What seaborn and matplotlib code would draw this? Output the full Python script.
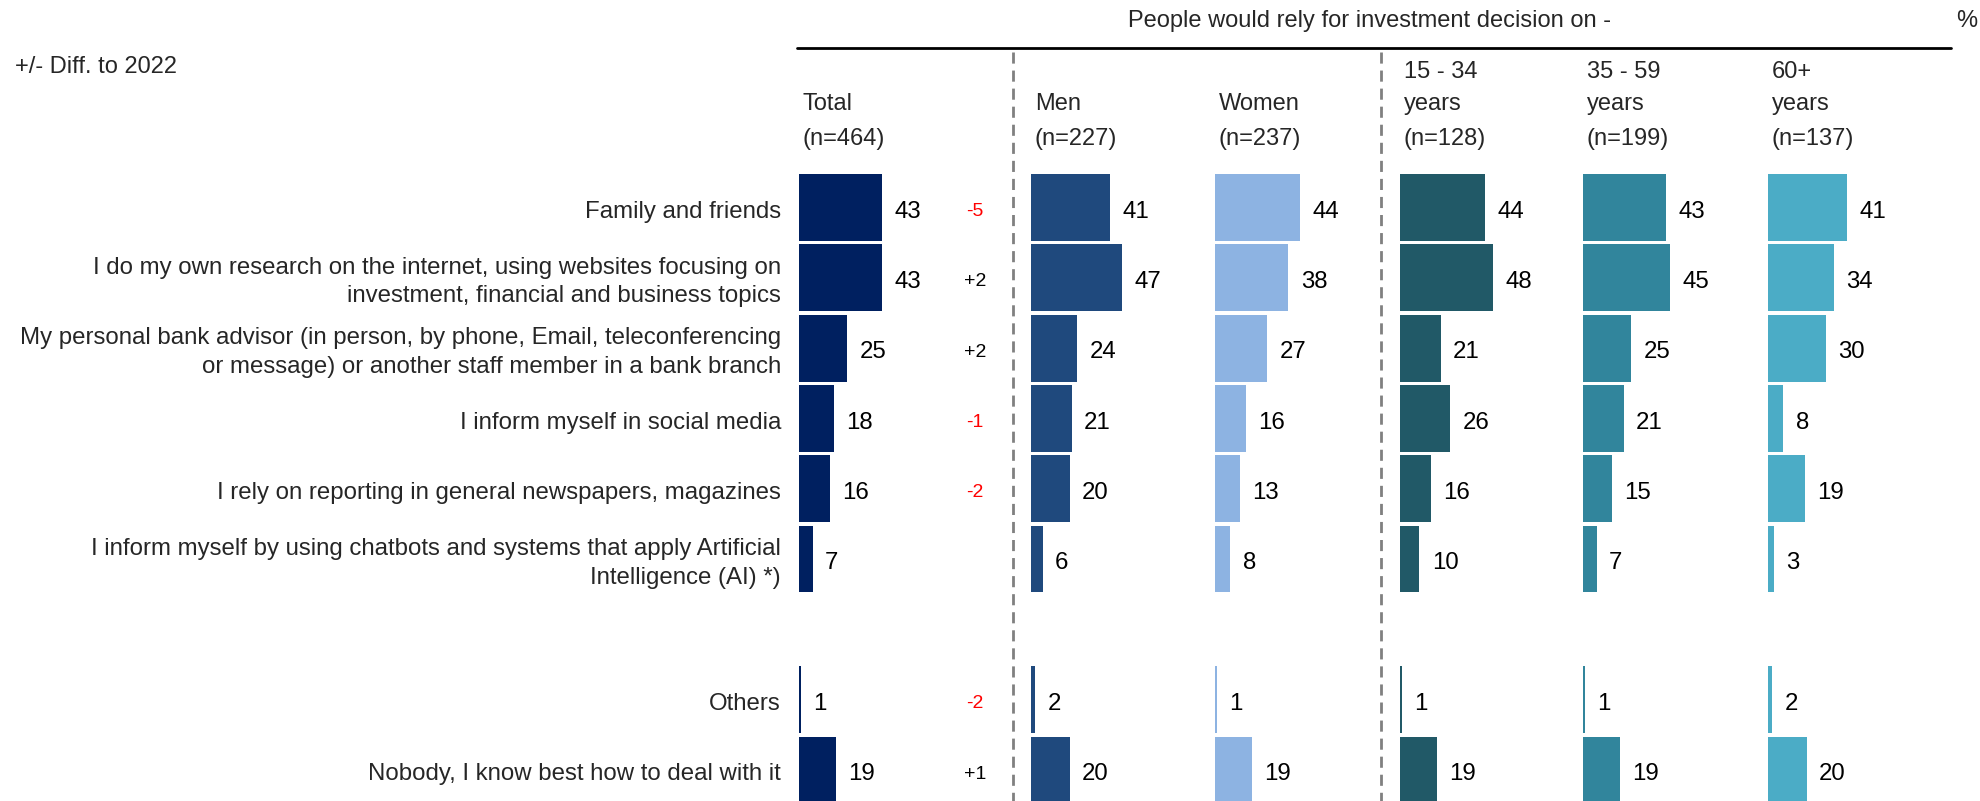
import pandas as pd
import matplotlib.pyplot as plt
from matplotlib.lines import Line2D
import seaborn as sns

# --- DATA ---
items = [
    "Family and friends",
    "I do my own research on the internet, using websites focusing on\ninvestment, financial and business topics",
    "My personal bank advisor (in person, by phone, Email, teleconferencing\nor message) or another staff member in a bank branch",
    "I inform myself in social media",
    "I rely on reporting in general newspapers, magazines",
    "I inform myself by using chatbots and systems that apply Artificial\nIntelligence (AI) *)",
    "Others",
    "Nobody, I know best how to deal with it",
]
row_pos = [0, 1, 2, 3, 4, 5, 7, 8]

total = [43, 43, 25, 18, 16, 7, 1, 19]
men = [41, 47, 24, 21, 20, 6, 2, 20]
women = [44, 38, 27, 16, 13, 8, 1, 19]
age_15_34 = [44, 48, 21, 26, 16, 10, 1, 19]
age_35_59 = [43, 45, 25, 21, 15, 7, 1, 19]
age_60 = [41, 34, 30, 8, 19, 3, 2, 20]
diff_2022 = ["-5", "+2", "+2", "-1", "-2", "", "-2", "+1"]

col_names = ["Total", "Men", "Women", "15 - 34\nyears", "35 - 59\nyears", "60+\nyears"]
col_n = ["(n=464)", "(n=227)", "(n=237)", "(n=128)", "(n=199)", "(n=137)"]
col_values = [total, men, women, age_15_34, age_35_59, age_60]
col_colors = ["#002060", "#1F497D", "#8DB3E2", "#215967", "#31859C", "#4BACC6"]

# --- SETUP ---
sns.set_style("white")
plt.rcParams['font.family'] = ['Liberation Sans', 'DejaVu Sans']

W, H = 1981, 801
fig = plt.figure(figsize=(W / 100, H / 100), dpi=100)

def fx(px):
    return px / W

def fy(py):
    return 1 - py / H

PX_PER_UNIT = 1.93
col_left = [799, 1031, 1215, 1400, 1583, 1768]
AX_W = 170
top_px, bot_px = 172.3, 801
ylim = (8.44, -0.5)
DY = -3  # small downward nudge so text sits on the bar centre

axes = []
for left, name, n, vals, color in zip(col_left, col_names, col_n, col_values, col_colors):
    ax = fig.add_axes([fx(left), fy(bot_px), AX_W / W, (bot_px - top_px) / H])
    df = pd.DataFrame({'value': vals, 'pos': row_pos})
    sns.barplot(data=df, x='value', y='pos', orient='y', native_scale=True,
                width=0.95, color=color, saturation=1, linewidth=0,
                errorbar=None, ax=ax)
    ax.set_xlim(0, AX_W / PX_PER_UNIT)
    ax.set_ylim(*ylim)
    ax.set_xticks([])
    ax.set_yticks([])
    ax.set_xlabel('')
    ax.set_ylabel('')
    for s in ax.spines.values():
        s.set_visible(False)
    ax.patch.set_alpha(0)
    for v, p in zip(vals, row_pos):
        ax.annotate(str(v), xy=(v, p), xytext=(9, DY), textcoords='offset points',
                    ha='left', va='center', fontsize=17.3, color='black',
                    annotation_clip=False)

    # column headers
    lines = name.split("\n")
    if len(lines) == 2:
        fig.text(fx(left + 4), fy(78), lines[0], fontsize=17, va='baseline')
        fig.text(fx(left + 4), fy(110), lines[1], fontsize=17, va='baseline')
    else:
        fig.text(fx(left + 4), fy(110), lines[0], fontsize=17, va='baseline')
    fig.text(fx(left + 4), fy(145), n, fontsize=17, va='baseline')
    axes.append(ax)

ax0 = axes[0]
# row labels
for label, p in zip(items, row_pos):
    ax0.annotate(label, xy=(0, p), xycoords=('axes fraction', 'data'),
                 xytext=(-13, DY), textcoords='offset points',
                 ha='right', va='center', multialignment='right',
                 fontsize=17.3, linespacing=1.4, annotation_clip=False)

# difference to 2022
diff_x = (975 - 799) / PX_PER_UNIT
for d, p in zip(diff_2022, row_pos):
    if d:
        ax0.annotate(d, xy=(diff_x, p), xytext=(0, DY), textcoords='offset points',
                     ha='center', va='center', fontsize=14,
                     color='#FF0000' if d.startswith('-') else 'black',
                     annotation_clip=False)

# --- TITLES AND RULES ---
fig.text(fx(1370), fy(27), "People would rely for investment decision on -",
         fontsize=17, ha='center', va='baseline')
fig.text(fx(1956), fy(27), "%", fontsize=17, ha='left', va='baseline')
fig.text(fx(15), fy(73), "+/- Diff. to 2022", fontsize=17, ha='left', va='baseline')

fig.add_artist(Line2D([fx(797), fx(1951)], [fy(48), fy(48)], color='black', lw=2))
for xd in [1013, 1381]:
    fig.add_artist(Line2D([fx(xd), fx(xd)], [fy(52), fy(801)], color='#808080',
                          lw=2, linestyle=(0, (4, 2.5))))

fig.savefig('out.png', dpi=100)
